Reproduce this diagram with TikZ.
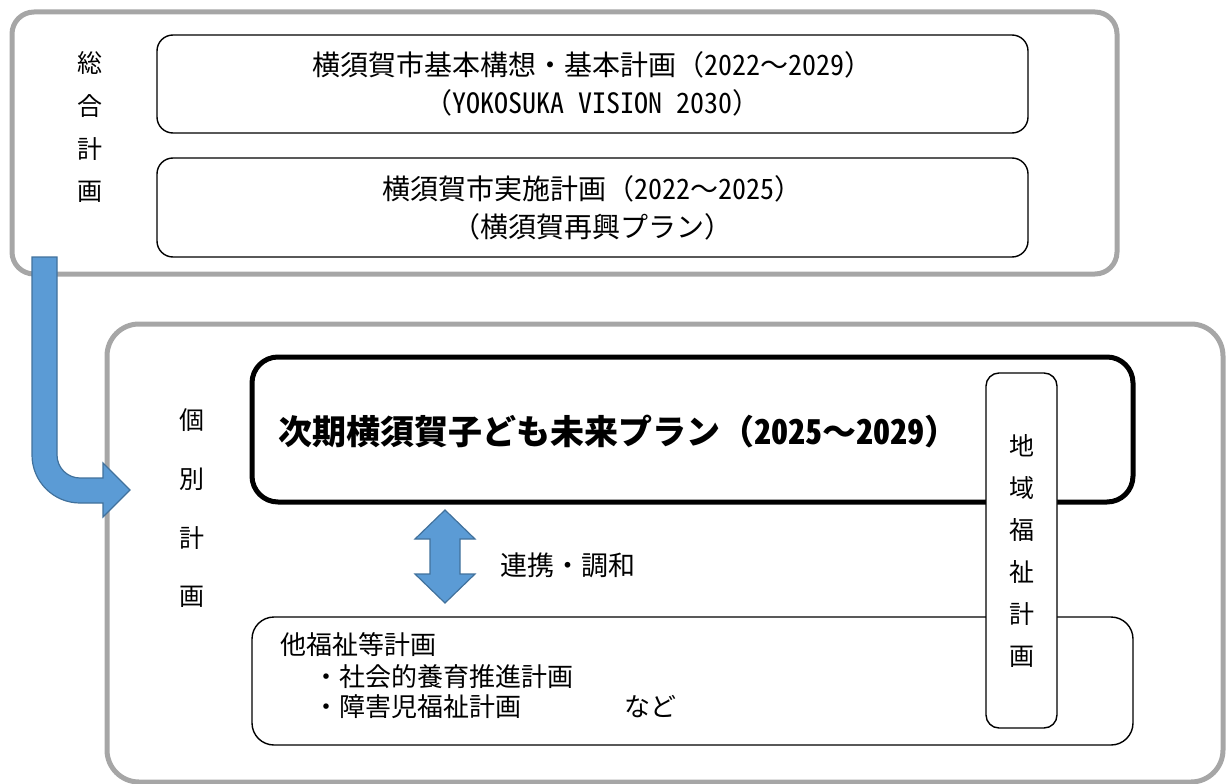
\documentclass[tikz,border=0pt]{standalone}
\usepackage{fontspec}
\newfontfamily\jp{Noto Sans CJK JP}
\newfontfamily\jph[RawFeature=+hwid]{Noto Sans CJK JP}
\newcommand{\hwtxt}[1]{{\jph #1}}
\definecolor{framegray}{HTML}{A6A6A6}
\definecolor{bluefill}{HTML}{5B9BD5}
\definecolor{blueline}{HTML}{41719C}
\tikzset{
  framebox/.style={draw=framegray, line width=5pt, rounded corners=22pt, inner sep=0pt},
  thinbox/.style={draw=black, line width=1.4pt, rounded corners=16pt, fill=white, inner sep=0pt},
  thickbox/.style={draw=black, line width=5pt, rounded corners=26pt, inner sep=0pt},
  blueshape/.style={fill=bluefill, draw=blueline, line width=1.2pt, line join=miter},
  toptext/.style={font=\jp\fontsize{28}{38}\selectfont, align=center},
  labeltext/.style={font=\jp\fontsize{25}{25}\selectfont, inner sep=0pt},
  smalltext/.style={font=\jp\fontsize{26}{26}\selectfont, inner sep=0pt, anchor=west},
}
\begin{document}
\begin{tikzpicture}[x=1pt,y=-1pt]
\useasboundingbox (0,0) rectangle (1229,784);
% upper frame
\node[framebox, minimum width=1105pt, minimum height=262pt] (upper) at (564.5,143) {};
\node[thinbox, minimum width=871pt, minimum height=98pt, toptext] (vision) at (592.5,84)
  {横須賀市基本構想・基本計画（\hwtxt{2022}～\hwtxt{2029}）\\（\hwtxt{YOKOSUKA VISION 2030}）};
\node[thinbox, minimum width=871pt, minimum height=99pt, toptext] (jisshi) at (592.5,207.5)
  {横須賀市実施計画（\hwtxt{2022}～\hwtxt{2025}）\\（横須賀再興プラン）};
\node[labeltext] (s1) at (90,63) {総};
\node[labeltext] (s2) at (90,106) {合};
\node[labeltext] (s3) at (90,149) {計};
\node[labeltext] (s4) at (90,192) {画};
% lower frame
\node[framebox, rounded corners=32pt, minimum width=1116pt, minimum height=458pt] (lower) at (665,553) {};
\node[thickbox, minimum width=881pt, minimum height=145pt] (plan) at (692.5,429.5) {};
\node[font=\jp\bfseries\fontsize{34}{34}\selectfont, inner sep=0pt] (plantitle) at (618,432)
  {次期横須賀子ども未来プラン（\hwtxt{2025}～\hwtxt{2029}）};
\node[thinbox, rounded corners=22pt, minimum width=881pt, minimum height=128pt] (other) at (692.5,681) {};
\node[smalltext] (o1) at (280,645) {他福祉等計画};
\node[smalltext] (o2) at (313,677) {・社会的養育推進計画};
\node[smalltext] (o3) at (313,707) {・障害児福祉計画};
\node[smalltext] (o4) at (624,707) {など};
\node[thinbox, rounded corners=13pt, minimum width=71pt, minimum height=355pt,
  font=\jp\fontsize{25}{42}\selectfont, align=center] (chiiki) at (1021.5,550.5)
  {地\\域\\福\\祉\\計\\画};
\node[labeltext] (k1) at (192,420) {個};
\node[labeltext] (k2) at (192,479) {別};
\node[labeltext] (k3) at (192,538) {計};
\node[labeltext] (k4) at (192,597) {画};
% bent arrow from the general plans to the individual plans
\draw[blueshape] (32,257) -- (32,455) .. controls (32,481.5) and (53.5,503) .. (80,503)
  -- (103,503) -- (103,517) -- (130,490) -- (103,463) -- (103,478) -- (80,478)
  .. controls (67.3,478) and (57,467.7) .. (57,455) -- (57,257) -- cycle;
% double arrow between plan and other plans
\draw[blueshape] (445,510) -- (475,539) -- (460,539) -- (460,574) -- (475,574) -- (445,603)
  -- (415,574) -- (430,574) -- (430,539) -- (415,539) -- cycle;
\node[font=\jp\fontsize{27}{27}\selectfont, inner sep=0pt, anchor=west] (renkei) at (500,565) {連携・調和};
\end{tikzpicture}
\end{document}
